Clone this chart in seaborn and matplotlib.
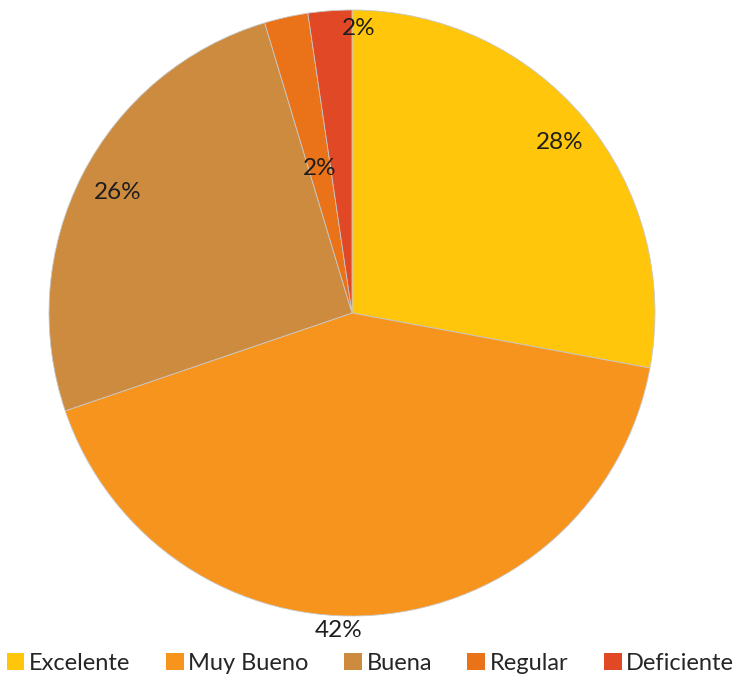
import numpy as np
import seaborn as sns
import matplotlib
matplotlib.use("Agg")
import matplotlib.pyplot as plt
from matplotlib.patches import Patch

# Data (counts, labels as shown)
categories = ["Excelente", "Muy Bueno", "Buena", "Regular", "Deficiente"]
counts = [12, 18, 11, 1, 1]
pct_labels = ["28%", "42%", "26%", "2%", "2%"]
colors = ["#FFC60B", "#F7941E", "#CC8B3F", "#EA7218", "#E04826"]
label_dist = [0.88, 1.05, 0.87, 0.49, 0.94]
label_dx = [0.01, -0.12, 0.0, 0.0, 0.09]

sns.set_theme(style="white")
plt.rcParams["font.family"] = ["Lato", "DejaVu Sans"]

fig = plt.figure(figsize=(7.41, 6.82), dpi=100)
ax = fig.add_axes([49 / 741, 66 / 682, 606 / 741, 606 / 682])

wedges, _ = ax.pie(
    counts,
    colors=colors,
    startangle=90,
    counterclock=False,
    radius=1.0,
    wedgeprops=dict(edgecolor="#c8c8c8", linewidth=0.6),
)
ax.set_xlim(-1.0, 1.0)
ax.set_ylim(-1.0, 1.0)
ax.set_aspect("equal")
ax.axis("off")

for w, lab, d, dx in zip(wedges, pct_labels, label_dist, label_dx):
    mid = np.deg2rad((w.theta1 + w.theta2) / 2)
    ax.text(d * np.cos(mid) + dx, d * np.sin(mid), lab, ha="center", va="center",
            fontsize=17.5, color="#1e1e1e", clip_on=False)

handles = [Patch(facecolor=c, edgecolor="none") for c in colors]
fig.legend(handles, categories, loc="center", bbox_to_anchor=(0.5, 19 / 682),
           ncol=5, frameon=False, fontsize=17, handlelength=0.75, handleheight=0.75,
           handletextpad=0.2, columnspacing=1.5)

fig.savefig("out.png", dpi=100)
